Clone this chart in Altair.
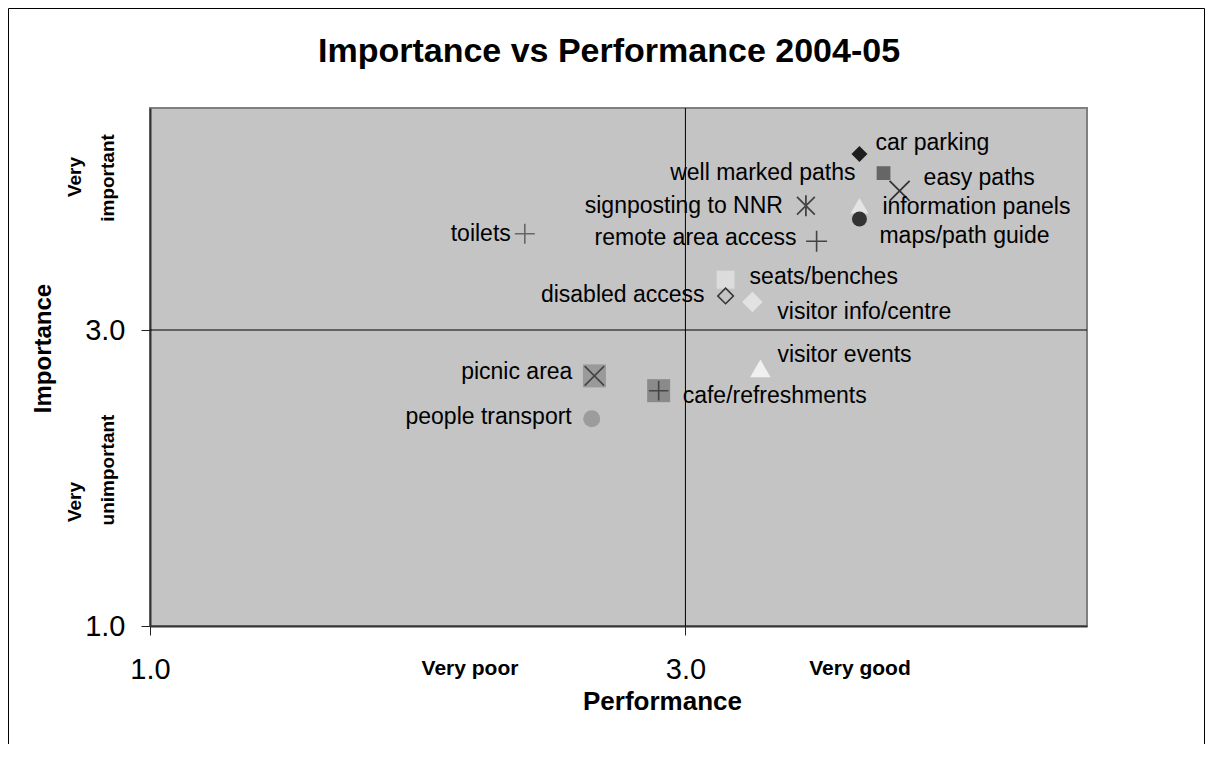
import altair as alt
import pandas as pd

# ---------------- data ----------------
title_text = "Importance vs Performance 2004-05"
labels = [
    "car parking", "well marked paths", "easy paths", "signposting to NNR",
    "information panels", "maps/path guide", "remote area access", "toilets",
    "seats/benches", "disabled access", "visitor info/centre", "visitor events",
    "picnic area", "cafe/refreshments", "people transport",
]
performance = [3.65, 3.74, 3.80, 3.45, 3.65, 3.65, 3.49, 2.40,
               3.15, 3.15, 3.25, 3.28, 2.66, 2.90, 2.65]
importance = [4.19, 4.06, 3.94, 3.84, 3.84, 3.75, 3.60, 3.65,
              3.34, 3.23, 3.19, 2.74, 2.69, 2.59, 2.40]
axis_ticks = [1.0, 3.0]
midpoint = [3.0]
x_domain = [1.0, 4.5]
y_domain = [1.0, 4.5]
x_end_labels = ["Very poor", "Very good"]
y_end_labels = ["Very", "important", "Very", "unimportant"]

# ---------------- styles ----------------
FONT = "Liberation Sans"
PLUS = "M-1,0L1,0M0,-1L0,1"
CROSS = "M-1,-1L1,1M-1,1L1,-1"
STAR = "M-0.85,-0.85L0.85,0.85M-0.85,0.85L0.85,-0.85M0,-1L0,1"

marker_styles = {
    "car parking": dict(shape="diamond", size=256, filled=True, fill="#1e1e1e", strokeWidth=0),
    "well marked paths": dict(shape="square", size=190, filled=True, fill="#666666", strokeWidth=0),
    "easy paths": dict(shape=CROSS, size=400, filled=False, stroke="#333333", strokeWidth=1.8),
    "signposting to NNR": dict(shape=STAR, size=440, filled=False, stroke="#444444", strokeWidth=1.8),
    "information panels": dict(shape="triangle-up", size=320, filled=True, fill="#e4e4e4", strokeWidth=0),
    "maps/path guide": dict(shape="circle", size=225, filled=True, fill="#333333", strokeWidth=0),
    "remote area access": dict(shape=PLUS, size=441, filled=False, stroke="#444444", strokeWidth=1.6),
    "toilets": dict(shape=PLUS, size=400, filled=False, stroke="#666666", strokeWidth=1.6),
    "seats/benches": dict(shape="square", size=324, filled=True, fill="#dcdcdc", strokeWidth=0),
    "disabled access": dict(shape="diamond", size=240, filled=False, stroke="#333333", strokeWidth=1.6),
    "visitor info/centre": dict(shape="diamond", size=420, filled=True, fill="#e2e2e2", strokeWidth=0),
    "visitor events": dict(shape="triangle-up", size=420, filled=True, fill="#f0f0f0", strokeWidth=0),
    "picnic area": dict(shape=CROSS, size=380, filled=False, stroke="#444444", strokeWidth=1.6),
    "cafe/refreshments": dict(shape=PLUS, size=380, filled=False, stroke="#444444", strokeWidth=1.6),
    "people transport": dict(shape="circle", size=289, filled=True, fill="#9c9c9c", strokeWidth=0),
}
backing_styles = {
    "picnic area": dict(shape="square", size=529, filled=True, fill="#9a9a9a", strokeWidth=0),
    "cafe/refreshments": dict(shape="square", size=529, filled=True, fill="#8a8a8a", strokeWidth=0),
}
# (align, dx, dy) of each data label relative to its marker
label_styles = {
    "car parking": ("left", 16, -11),
    "well marked paths": ("right", -28, 0),
    "easy paths": ("left", 24, -13),
    "signposting to NNR": ("right", -23, 0),
    "information panels": ("left", 23, 1),
    "maps/path guide": ("left", 20, 17),
    "remote area access": ("right", -20, -3),
    "toilets": ("right", -14, 0),
    "seats/benches": ("left", 24, -3),
    "disabled access": ("right", -21, -1),
    "visitor info/centre": ("left", 25, 10),
    "visitor events": ("left", 17, -13),
    "picnic area": ("right", -22, -4),
    "cafe/refreshments": ("left", 24, 5),
    "people transport": ("right", -20, -2),
}

df = pd.DataFrame({"label": labels, "performance": performance, "importance": importance})

xs = alt.Scale(domain=x_domain, nice=False, zero=False)
ys = alt.Scale(domain=y_domain, nice=False, zero=False)

x_axis = alt.Axis(
    values=axis_ticks, format=".1f", grid=False,
    labelFont=FONT, labelFontSize=29, labelColor="black", labelPadding=20, labelFlush=False,
    tickSize=9, tickColor="#222222", tickWidth=1,
    domainColor="#333333", domainWidth=2,
    title="Performance", titleFont=FONT, titleFontSize=26, titleFontWeight="bold",
    titleColor="black", titleX=512, titleY=83, titleAlign="center", titleBaseline="alphabetic",
)
y_axis = alt.Axis(
    values=axis_ticks, format=".1f", grid=False,
    labelFont=FONT, labelFontSize=29, labelColor="black", labelPadding=16, labelFlush=False,
    tickSize=9, tickColor="#222222", tickWidth=1,
    domainColor="#333333", domainWidth=2,
    title="Importance", titleFont=FONT, titleFontSize=24, titleFontWeight="bold",
    titleColor="black", titleAngle=270, titleX=-107, titleY=240,
    titleAlign="center", titleBaseline="middle",
)
X = alt.X("performance:Q", scale=xs, axis=x_axis)
Y = alt.Y("importance:Q", scale=ys, axis=y_axis)

layers = []

# quadrant lines
layers.append(alt.Chart(pd.DataFrame({"performance": midpoint})).mark_rule(color="black", strokeWidth=1).encode(x=X))
layers.append(alt.Chart(pd.DataFrame({"importance": midpoint})).mark_rule(color="black", strokeWidth=1).encode(y=Y))

base = alt.Chart(df)

for lab, st in backing_styles.items():
    layers.append(base.transform_filter(alt.datum.label == lab)
                  .mark_point(opacity=1, **st).encode(x=X, y=Y))

for lab in labels:
    st = marker_styles[lab]
    layers.append(base.transform_filter(alt.datum.label == lab)
                  .mark_point(opacity=1, **st).encode(x=X, y=Y))

for lab in labels:
    align, dx, dy = label_styles[lab]
    layers.append(base.transform_filter(alt.datum.label == lab)
                  .mark_text(align=align, baseline="middle", dx=dx, dy=dy,
                             font=FONT, fontSize=23, color="black")
                  .encode(x=X, y=Y, text="label:N"))

one = pd.DataFrame({"t": [title_text]})

# chart title
layers.append(alt.Chart(one).mark_text(font=FONT, fontSize=34, fontWeight="bold", color="black",
                                       align="center", baseline="alphabetic")
              .encode(x=alt.value(459), y=alt.value(-46), text="t:N"))

# x end labels
for txt, px in zip(x_end_labels, [320, 710]):
    layers.append(alt.Chart(pd.DataFrame({"t": [txt]})).mark_text(
        font=FONT, fontSize=21, fontWeight="bold", color="black", align="center", baseline="alphabetic")
        .encode(x=alt.value(px), y=alt.value(567), text="t:N"))

# y end labels (rotated)
for txt, (px, py) in zip(y_end_labels, [(-75, 69), (-42, 70), (-75, 394), (-42, 362)]):
    layers.append(alt.Chart(pd.DataFrame({"t": [txt]})).mark_text(
        font=FONT, fontSize=19, fontWeight="bold", color="black", align="center",
        baseline="middle", angle=270)
        .encode(x=alt.value(px), y=alt.value(py), text="t:N"))

# outer chart frame
layers.append(alt.Chart(one).mark_rect(fill="transparent", stroke="black", strokeWidth=1)
              .encode(x=alt.value(-141.5), x2=alt.value(1054.5), y=alt.value(-99.5), y2=alt.value(700)))

chart = alt.layer(*layers).properties(
    width=937, height=518,
    autosize=alt.AutoSizeParams(type="none"),
    padding={"left": 142, "top": 100, "right": 118, "bottom": 118},
    background="white",
).configure_view(fill="#c4c4c4", stroke="#808080", strokeWidth=2)

chart.save("out.html", embed_options={"renderer": "svg", "actions": False})
